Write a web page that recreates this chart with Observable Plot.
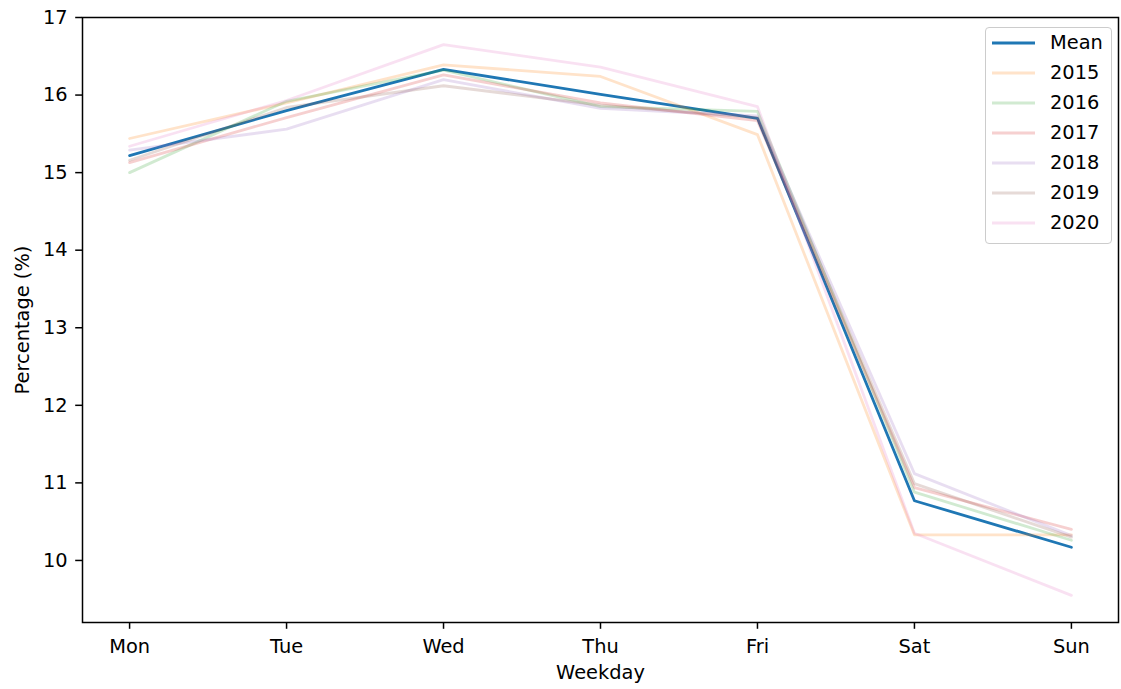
<!DOCTYPE html>
<html>
<head>
<meta charset="utf-8">
<script src="https://cdn.jsdelivr.net/npm/d3@7"></script>
<script src="https://cdn.jsdelivr.net/npm/@observablehq/plot@0.6"></script>
<style>
  body { margin: 0; background: #fff; }
  #wrap { position: relative; width: 1121px; height: 689px; font-family: "DejaVu Sans", sans-serif; }
  #legend { position: absolute; left: 985px; top: 27px; width: 127px; height: 217px; box-sizing: border-box;
    border: 1px solid #cccccc; border-radius: 4px; background: rgba(255,255,255,0.8); font-size: 19.4px; color: #000; }
  .item { position: absolute; left: 6px; height: 24px; display: flex; align-items: center; }
  .item svg { width: 43px; height: 24px; }
  .item span { margin-left: 15px; line-height: 24px; }
</style>
</head>
<body>
<div id="wrap"><div id="legend"></div></div>
<script>
const days = ["Mon", "Tue", "Wed", "Thu", "Fri", "Sat", "Sun"];
const yTicks = [10, 11, 12, 13, 14, 15, 16, 17];
const seriesNames = ["Mean", "2015", "2016", "2017", "2018", "2019", "2020"];
const meanValues = [15.22, 15.80, 16.33, 16.01, 15.70, 10.77, 10.17];
const v2015 = [15.44, 15.90, 16.39, 16.24, 15.49, 10.33, 10.33];
const v2016 = [15.00, 15.92, 16.32, 15.85, 15.79, 10.88, 10.26];
const v2017 = [15.13, 15.71, 16.26, 15.90, 15.67, 10.94, 10.40];
const v2018 = [15.29, 15.56, 16.20, 15.83, 15.73, 11.12, 10.32];
const v2019 = [15.16, 15.84, 16.12, 15.87, 15.71, 10.99, 10.30];
const v2020 = [15.34, 15.93, 16.65, 16.36, 15.85, 10.35, 9.55];
const colors = ["#1f77b4", "#ff7f0e", "#2ca02c", "#d62728", "#9467bd", "#8c564b", "#e377c2"];

const allValues = [meanValues, v2015, v2016, v2017, v2018, v2019, v2020];
const rows = [];
allValues.forEach((vals, si) => vals.forEach((v, i) => rows.push({series: seriesNames[si], day: days[i], value: v})));

const LW = 2.8;
const lineMarks = seriesNames.map((name, si) => Plot.line(rows.filter(r => r.series === name), {
  x: "day", y: "value",
  stroke: colors[si],
  strokeWidth: LW,
  strokeOpacity: si === 0 ? 1 : 0.22,
  curve: "linear"
}));

const FS = 19.4;
const chart = Plot.plot({
  width: 1121, height: 689,
  marginLeft: 82, marginRight: 3, marginTop: 17, marginBottom: 67,
  style: { fontFamily: "DejaVu Sans, sans-serif", fontSize: FS + "px", color: "#000", background: "transparent" },
  x: { type: "point", domain: days, padding: 0.3, round: false },
  y: { domain: [9.2, 17.0] },
  marks: [
    ...lineMarks,
    Plot.frame({ stroke: "#000", strokeWidth: 1.5 }),
    Plot.axisX({ tickSize: 6.8, tickPadding: 9.5, label: null, fontSize: FS + "px", strokeWidth: 1.5 }),
    Plot.axisY({ ticks: yTicks, tickSize: 6.8, tickPadding: 8, label: null, fontSize: FS + "px", strokeWidth: 1.5, tickFormat: d => String(d) }),
    Plot.text(["Percentage (%)"], { frameAnchor: "left", dx: -60, rotate: -90, textAnchor: "middle", fontSize: FS, fill: "#000" }),
    Plot.text(["Weekday"], { frameAnchor: "bottom", dy: 56, fontSize: FS, fill: "#000" })
  ]
});
const wrap = document.getElementById("wrap");
wrap.insertBefore(chart, wrap.firstChild);

const legend = document.getElementById("legend");
seriesNames.forEach((name, si) => {
  const d = document.createElement("div");
  d.className = "item";
  d.style.top = (3 + si * 30) + "px";
  d.innerHTML = `<svg><line x1="0" x2="43" y1="12" y2="12" stroke="${colors[si]}" stroke-width="${LW}" stroke-opacity="${si === 0 ? 1 : 0.22}"/></svg><span>${name}</span>`;
  legend.appendChild(d);
});
</script>
</body>
</html>
